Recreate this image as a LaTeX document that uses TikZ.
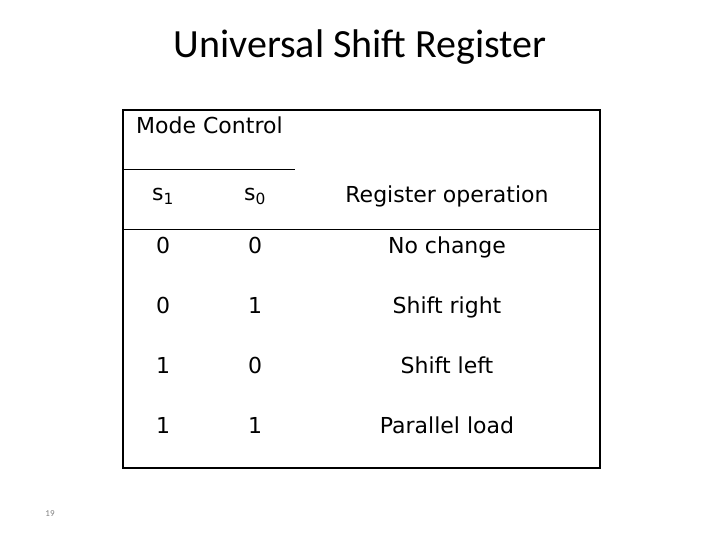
\documentclass[tikz,border=0pt]{standalone}
\usepackage{fontspec}
\setmainfont{DejaVu Sans}
\newfontfamily\titlefont{Carlito}
\begin{document}
\begin{tikzpicture}[x=1pt,y=-1pt,
  cell/.style={font=\fontsize{22}{25}\selectfont,inner sep=0pt,text height=16pt,text depth=5pt}]
\useasboundingbox (0,0) rectangle (720,540);
\node[font=\titlefont\fontsize{40}{44}\selectfont] (title) at (360,47) {Universal Shift Register};
\draw[line width=1.5pt] (123,110) rectangle (600,468);
\draw[line width=1pt] (123,170) -- (295,170);
\draw[line width=1pt] (123,230) -- (600,230);
\node[cell,anchor=west] (mode) at (136,128) {Mode Control};
\node[cell] (s1) at (163,195) {s\textsubscript{1}};
\node[cell] (s0) at (255,195) {s\textsubscript{0}};
\node[cell] (op) at (447,197) {Register operation};
\node[cell] (a1) at (163,248) {0};
\node[cell] (a0) at (255,248) {0};
\node[cell] (aop) at (447,248) {No change};
\node[cell] (b1) at (163,308) {0};
\node[cell] (b0) at (255,308) {1};
\node[cell] (bop) at (447,308) {Shift right};
\node[cell] (c1) at (163,368) {1};
\node[cell] (c0) at (255,368) {0};
\node[cell] (cop) at (447,368) {Shift left};
\node[cell] (d1) at (163,428) {1};
\node[cell] (d0) at (255,428) {1};
\node[cell] (dop) at (447,428) {Parallel load};
\node[font=\titlefont\fontsize{9}{10}\selectfont,text=gray] (page) at (50,514) {19};
\end{tikzpicture}
\end{document}
